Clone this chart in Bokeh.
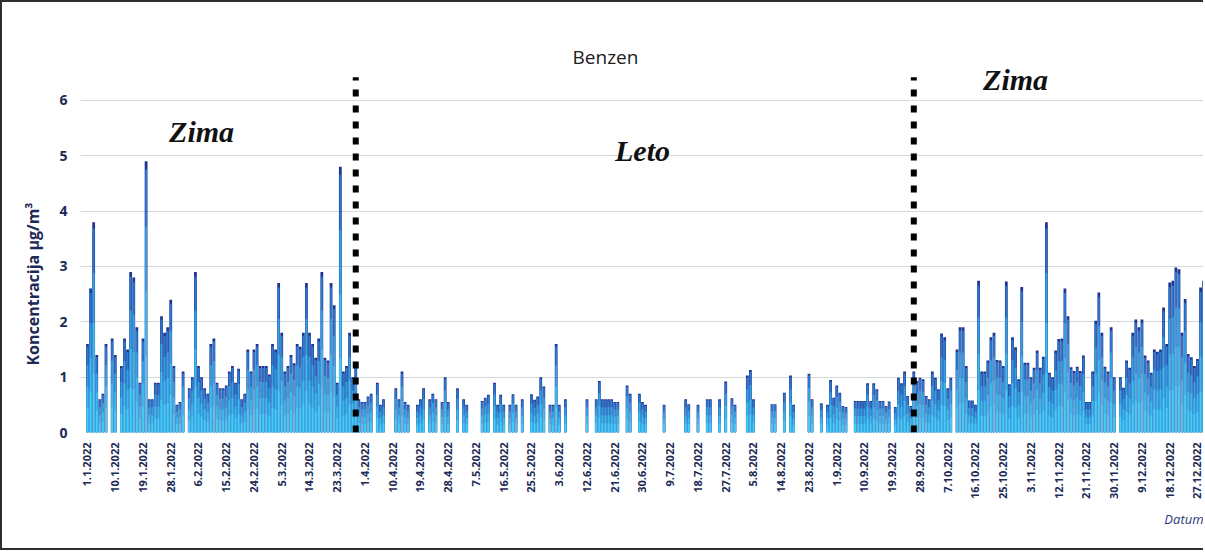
import math
import numpy as np
import pandas as pd
from bokeh.plotting import figure
from bokeh.models import ColumnDataSource, Label, FixedTicker, Title
from bokeh.embed import file_html
from bokeh.resources import INLINE

# Daily benzene concentration (µg/m³), day 0 = 1.1.2022; None = no measurement
benzen = [
    # 0-9
    1.6, 2.6, 3.8, 1.4, 0.6, 0.7, 1.6, None, 1.7, 1.4,
    # 10-19
    None, 1.2, 1.7, 1.5, 2.9, 2.8, 1.9, 0.9, 1.7, 4.9,
    # 20-29
    0.6, 0.6, 0.9, 0.9, 2.1, 1.8, 1.9, 2.4, 1.2, 0.5,
    # 30-39
    0.55, 1.1, None, 0.8, 1.0, 2.9, 1.2, 1.0, 0.8, 0.7,
    # 40-49
    1.6, 1.7, 0.9, 0.8, 0.8, 0.85, 1.1, 1.2, 0.9, 1.15,
    # 50-59
    0.6, 0.7, 1.5, 1.1, 1.5, 1.6, 1.2, 1.2, 1.2, 1.05,
    # 60-69
    1.6, 1.5, 2.7, 1.8, 1.1, 1.2, 1.4, 1.25, 1.6, 1.55,
    # 70-79
    1.8, 2.7, 1.8, 1.6, 1.35, 1.7, 2.9, 1.35, 1.3, 2.7,
    # 80-89
    2.3, 0.9, 4.8, 1.1, 1.2, 1.8, 1.0, 1.2, 0.6, 0.55,
    # 90-99
    0.55, 0.65, 0.7, None, 0.9, 0.5, 0.6, None, None, None,
    # 100-109
    0.8, 0.6, 1.1, 0.55, 0.5, None, None, 0.5, 0.6, 0.8,
    # 110-119
    None, 0.6, 0.7, 0.6, None, 0.55, 1.0, 0.55, None, None,
    # 120-129
    0.8, None, 0.6, 0.5, None, None, None, None, 0.57, 0.63,
    # 130-139
    0.68, None, 0.9, 0.5, 0.68, 0.5, None, 0.5, 0.69, 0.5,
    # 140-149
    None, 0.6, None, None, 0.69, 0.59, 0.65, 1.0, 0.83, None,
    # 150-159
    0.5, 0.5, 1.6, 0.5, None, 0.6, None, None, None, None,
    # 160-169
    None, None, 0.6, None, None, 0.6, 0.93, 0.6, 0.6, 0.6,
    # 170-179
    0.6, 0.55, 0.55, None, None, 0.85, 0.7, None, None, 0.7,
    # 180-189
    0.55, 0.5, None, None, None, None, None, 0.5, None, None,
    # 190-199
    None, None, None, None, 0.6, 0.51, None, None, 0.5, None,
    # 200-209
    None, 0.6, 0.6, None, None, 0.6, None, 0.92, None, 0.62,
    # 210-219
    0.5, None, None, None, 1.03, 1.13, 0.6, None, None, None,
    # 220-229
    None, None, 0.51, 0.51, None, None, 0.72, None, 1.03, 0.5,
    # 230-239
    None, None, None, None, 1.06, 0.6, None, None, 0.53, None,
    # 240-249
    0.5, 0.95, 0.63, 0.85, 0.72, 0.48, 0.46, None, None, 0.57,
    # 250-259
    0.57, 0.57, 0.57, 0.89, 0.57, 0.89, 0.78, 0.57, 0.57, 0.48,
    # 260-269
    0.56, None, 0.46, 0.99, 0.89, 1.1, 0.66, 0.48, 1.1, 0.93,
    # 270-279
    0.99, 0.96, 0.66, 0.6, 1.1, 0.99, 0.78, 1.79, 1.72, 0.8,
    # 280-289
    0.99, None, 1.5, 1.9, 1.9, 1.2, 0.58, 0.58, 0.5, 2.74,
    # 290-299
    1.1, 1.1, 1.3, 1.72, 1.8, 1.31, 1.3, 1.2, 2.73, 0.87,
    # 300-309
    1.72, 1.54, 0.96, 2.63, 1.26, 1.26, 1.0, 1.17, 1.48, 1.17,
    # 310-319
    1.37, 3.8, 1.08, 1.0, 1.48, 1.69, 1.7, 2.6, 2.1, 1.18,
    # 320-329
    1.11, 1.19, 1.11, 1.39, 0.55, 0.55, 1.1, 2.02, 2.53, 1.8,
    # 330-339
    1.19, 1.1, 1.9, 1.0, None, 1.0, 0.81, 1.3, 1.17, 1.8,
    # 340-349
    2.04, 1.9, 2.04, 1.39, 1.3, 1.08, 1.5, 1.46, 1.5, 2.26,
    # 350-359
    1.6, 2.71, 2.74, 2.98, 2.95, 1.8, 2.41, 1.42, 1.36, 1.2,
    # 360-362
    1.33, 2.62, 2.74,
]

tick_days = list(range(0, 361, 9))
tick_labels = [
    "1.1.2022", "10.1.2022", "19.1.2022", "28.1.2022", "6.2.2022", "15.2.2022",
    "24.2.2022", "5.3.2022", "14.3.2022", "23.3.2022", "1.4.2022", "10.4.2022",
    "19.4.2022", "28.4.2022", "7.5.2022", "16.5.2022", "25.5.2022", "3.6.2022",
    "12.6.2022", "21.6.2022", "30.6.2022", "9.7.2022", "18.7.2022", "27.7.2022",
    "5.8.2022", "14.8.2022", "23.8.2022", "1.9.2022", "10.9.2022", "19.9.2022",
    "28.9.2022", "7.10.2022", "16.10.2022", "25.10.2022", "3.11.2022", "12.11.2022",
    "21.11.2022", "30.11.2022", "9.12.2022", "18.12.2022", "27.12.2022",
]
y_ticks = [0, 1, 2, 3, 4, 5, 6]
season_boundaries = [87, 268]          # day index of the dotted season lines
season_names = ["Zima", "Leto", "Zima"]
season_label_pos = [(37, 5.44), (180, 5.1), (301, 6.38)]

df = pd.DataFrame({"day": list(range(len(benzen))), "v": benzen}).dropna()
df["t1"] = df["v"] * 0.97
df["t2"] = df["v"] * 0.76
df["t3"] = df["v"] * 0.52
df["t4"] = df["v"] * 0.28
src = ColumnDataSource(df)

p = figure(width=1203, height=550, x_range=(-2.27, 362.6), y_range=(0, 7.01),
           output_backend="svg", toolbar_location=None, title=None,
           min_border_left=78, min_border_right=0, min_border_top=42,
           min_border_bottom=120)
p.styles = {"border-left": "2px solid #2e2e2e", "border-top": "2px solid #2e2e2e",
            "border-bottom": "2px solid #2e2e2e"}
p.outline_line_color = None
p.background_fill_color = "white"

# gradient-like bars: dark outline body, then lighter inner layers
p.vbar(x="day", top="v", bottom=0, width=0.9, source=src,
       fill_color="#1d3590", line_color=None)
for col, colr in [("t1", "#2b78cc"), ("t2", "#34a0e2"), ("t3", "#3cbaee"), ("t4", "#46caf6")]:
    p.vbar(x="day", top=col, bottom=0, width=0.62, source=src,
           fill_color=colr, line_color=None)

# dotted season separators
p.segment(x0=season_boundaries, y0=[0, 0], x1=season_boundaries, y1=[6.42, 6.42],
          line_color="black", line_width=6, line_dash="7 9", line_cap="butt")

# axes
p.yaxis.ticker = FixedTicker(ticks=y_ticks)
p.yaxis.axis_line_color = None
p.yaxis.major_tick_line_color = None
p.yaxis.minor_tick_line_color = None
p.yaxis.major_tick_out = 0
p.yaxis.major_tick_in = 0
p.yaxis.major_label_standoff = 13
p.yaxis.major_label_text_font = "Open Sans"
p.yaxis.major_label_text_font_style = "bold"
p.yaxis.major_label_text_font_size = "14px"
p.yaxis.major_label_text_color = "#1e2a55"

p.xaxis.ticker = FixedTicker(ticks=tick_days)
p.xaxis.major_label_overrides = {d: lab for d, lab in zip(tick_days, tick_labels)}
p.xaxis.major_label_orientation = math.pi / 2
p.xaxis.axis_line_color = None
p.xaxis.major_tick_line_color = None
p.xaxis.minor_tick_line_color = None
p.xaxis.major_tick_out = 0
p.xaxis.major_tick_in = 0
p.xaxis.major_label_standoff = 10
p.xaxis.major_label_text_font = "Open Sans"
p.xaxis.major_label_text_font_style = "bold"
p.xaxis.major_label_text_font_size = "11px"
p.xaxis.major_label_text_color = "#1c2a55"

p.xgrid.grid_line_color = None
p.ygrid.grid_line_color = "#d3d9d9"
p.ygrid.grid_line_width = 1

# texts inside the frame
p.add_layout(Label(x=168, y=6.78, text="Benzen", text_align="center",
                   text_baseline="middle", text_font="Open Sans",
                   text_font_size="19px", text_color="#202020"))
for name, (sx, sy) in zip(season_names, season_label_pos):
    p.add_layout(Label(x=sx, y=sy, text=name, text_align="center",
                       text_baseline="middle", text_font="Liberation Serif",
                       text_font_style="bold italic", text_font_size="30px",
                       text_color="#111111"))

# texts outside the frame
p.add_layout(Title(text="Koncentracija µg/m³", align="left", offset=67, standoff=26,
                   text_font="Open Sans", text_font_style="bold",
                   text_font_size="16px", text_color="#1e2a55"), "left")
p.add_layout(Title(text="Datum", align="right", offset=2,
                   text_font="Open Sans", text_font_style="italic",
                   text_font_size="13px", text_color="#1f3d7a"), "below")

open("out.html", "w").write(file_html(p, INLINE))
